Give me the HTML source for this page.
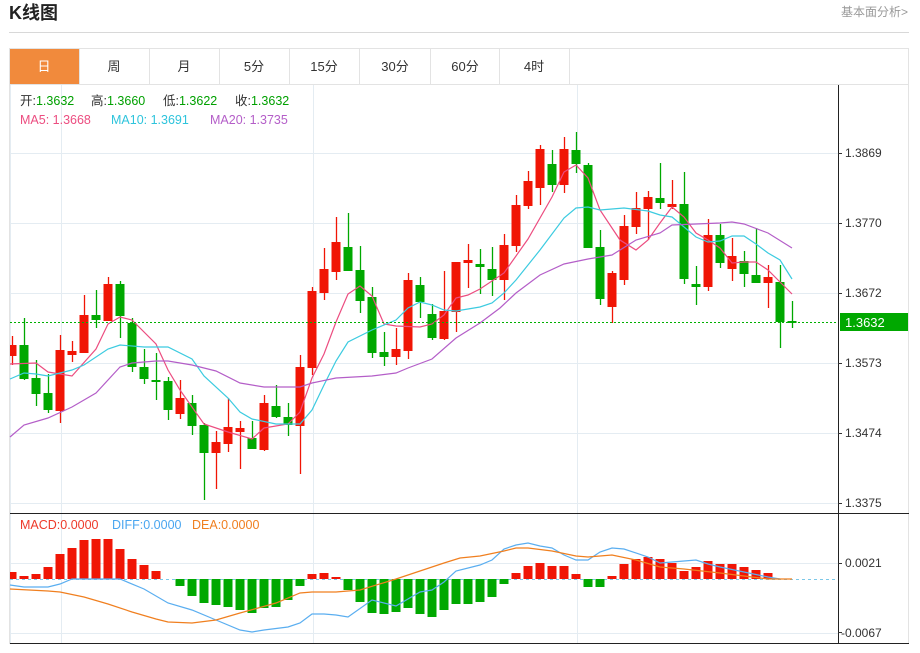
<!DOCTYPE html>
<html><head><meta charset="utf-8"><style>
body{margin:0;background:#fff;width:920px;height:648px;overflow:hidden;font-family:"Liberation Sans","Noto Sans CJK SC",sans-serif}
svg text{font-family:"Liberation Sans","Noto Sans CJK SC",sans-serif}
</style></head><body>
<svg id="s" width="920" height="648" xmlns="http://www.w3.org/2000/svg">
<text x="9" y="19" font-size="18" font-weight="bold" fill="#222">K线图</text>
<text x="908" y="16" font-size="12" fill="#999" text-anchor="end">基本面分析&gt;</text>
<line x1="9" y1="32.5" x2="909" y2="32.5" stroke="#d8d8d8"/>
<rect x="9.5" y="48.5" width="899" height="595" fill="none" stroke="#e3e3e3"/>
<line x1="9" y1="84.5" x2="909" y2="84.5" stroke="#e3e3e3"/>
<rect x="10" y="49" width="69" height="35" fill="#f18a3c"/>
<g stroke="#e3e3e3"><line x1="79.5" y1="49" x2="79.5" y2="84"/><line x1="149.5" y1="49" x2="149.5" y2="84"/><line x1="219.5" y1="49" x2="219.5" y2="84"/><line x1="289.5" y1="49" x2="289.5" y2="84"/><line x1="359.5" y1="49" x2="359.5" y2="84"/><line x1="430.5" y1="49" x2="430.5" y2="84"/><line x1="499.5" y1="49" x2="499.5" y2="84"/><line x1="569.5" y1="49" x2="569.5" y2="84"/></g>
<g font-size="13" text-anchor="middle" fill="#333">
<text x="44" y="71" fill="#fff">日</text><text x="114" y="71">周</text><text x="184" y="71">月</text><text x="254" y="71">5分</text><text x="324" y="71">15分</text><text x="395" y="71">30分</text><text x="465" y="71">60分</text><text x="534" y="71">4时</text></g>
<g id="grid" stroke="#e4ecf2" stroke-width="1"></g>
<g id="plot"></g>
<line x1="838.5" y1="85" x2="838.5" y2="643" stroke="#222"/>
<line x1="10" y1="513.5" x2="909" y2="513.5" stroke="#222"/>
<line x1="10" y1="643.5" x2="909" y2="643.5" stroke="#222"/>
<g font-size="12" fill="#333">
<text x="845" y="157">1.3869</text><text x="845" y="227">1.3770</text><text x="845" y="297">1.3672</text><text x="845" y="367">1.3573</text><text x="845" y="437">1.3474</text><text x="845" y="507">1.3375</text>
<text x="845" y="567">0.0021</text><text x="841" y="637">-0.0067</text></g>
<g stroke="#333"><line x1="838" y1="153.5" x2="842" y2="153.5"/><line x1="838" y1="223.5" x2="842" y2="223.5"/><line x1="838" y1="293.5" x2="842" y2="293.5"/><line x1="838" y1="363.5" x2="842" y2="363.5"/><line x1="838" y1="433.5" x2="842" y2="433.5"/><line x1="838" y1="503.5" x2="842" y2="503.5"/><line x1="838" y1="563.5" x2="842" y2="563.5"/><line x1="838" y1="632.5" x2="842" y2="632.5"/></g>
<rect x="840" y="313" width="68" height="18" fill="#00a800"/>
<text x="845" y="327" font-size="13" fill="#fff">1.3632</text>
<g font-size="12.5">
<text x="20" y="105" fill="#333">开:<tspan fill="#00a000">1.3632</tspan></text>
<text x="91" y="105" fill="#333">高:<tspan fill="#00a000">1.3660</tspan></text>
<text x="163" y="105" fill="#333">低:<tspan fill="#00a000">1.3622</tspan></text>
<text x="235" y="105" fill="#333">收:<tspan fill="#00a000">1.3632</tspan></text>
<text x="20" y="124" fill="#ec4d80">MA5: 1.3668</text><text x="111" y="124" fill="#2ec4dc">MA10: 1.3691</text><text x="210" y="124" fill="#b45ec8">MA20: 1.3735</text>
<text x="20" y="529" fill="#ee3a2a">MACD:0.0000</text><text x="112" y="529" fill="#4aa6f0">DIFF:0.0000</text><text x="192" y="529" fill="#f07f1f">DEA:0.0000</text>
</g>
</svg>
<script>
var NS="http://www.w3.org/2000/svg";
function el(p,t,a){var e=document.createElementNS(NS,t);for(var k in a)e.setAttribute(k,a[k]);p.appendChild(e);return e;}
var g=document.getElementById('grid'),P=document.getElementById('plot');
[153,223,293,363,433,503,563,633].forEach(function(y){el(g,'line',{x1:10,x2:838,y1:y+.5,y2:y+.5});});
[61,313,577].forEach(function(x){el(g,'line',{x1:x+.5,x2:x+.5,y1:85,y2:643});});
el(g,'line',{x1:10.5,x2:10.5,y1:85,y2:643});
var R='#f01505',G='#00a800';
var C=[['r',345,356,336,365],['g',345,379,318,380],['g',378,394,360,406],['g',393,410,374,413],['r',350,411,335,423],['r',351,355,341,362],['r',315,353,295,353],['g',315,320,290,328],['r',284,321,277,321],['g',284,316,281,338],['g',323,367,318,372],['g',367,379,349,384],['g',380,382,353,400],['g',381,410,377,420],['r',398,414,380,419],['g',403,426,395,435],['g',425,453,423,500],['r',442,453,431,489],['r',427,444,398,452],['r',428,432,421,469],['g',438,449,421,449],['r',403,450,395,451],['g',406,417,385,418],['g',417,425,403,436],['r',367,426,355,474],['r',291,368,287,375],['r',269,293,248,300],['r',242,272,217,280],['g',247,271,213,271],['g',270,301,246,313],['g',297,353,287,358],['g',352,357,332,366],['r',349,357,328,365],['r',280,351,273,359],['g',285,302,277,318],['g',314,338,304,340],['r',311,339,271,340],['r',262,312,262,332],['r',260,263,244,288],['g',264,267,249,294],['g',269,280,247,296],['r',245,280,234,300],['r',205,246,195,252],['r',181,206,171,209],['r',149,188,145,205],['g',164,185,150,192],['r',149,185,137,193],['g',150,164,132,173],['g',165,248,163,248],['g',247,299,230,305],['r',273,307,271,323],['r',226,280,215,285],['r',208,227,192,234],['r',197,209,191,240],['g',198,203,163,209],['r',204,207,180,209],['g',204,279,172,284],['g',284,287,266,305],['r',235,287,219,291],['g',235,263,224,268],['r',256,269,238,281],['g',261,274,251,287],['g',275,283,228,283],['r',277,283,265,308],['g',282,322,265,348],['g',321,322,301,328]];
C.forEach(function(c,i){var x=12+12*i,col=c[0]=='r'?R:G;
el(P,'line',{x1:x+.5,x2:x+.5,y1:c[3],y2:c[4],stroke:col,'stroke-width':1.3});
var h=Math.max(c[2]-c[1],2);el(P,'rect',{x:Math.max(x-4.5,10),y:c[1],width:x-4.5<10?x+4.5-10:9,height:h,fill:col});});
function pl(pts,col){el(P,'polyline',{points:pts,fill:'none',stroke:col,'stroke-width':1.2});}
pl("10,364 36,363 48,372 72,376 96,349 108,324 120,317 132,320 156,344 168,370 180,390 204,424 228,432 252,439 264,428 288,424 300,412 312,378 324,354 336,322 348,294 360,286 372,296 384,324 396,326 420,327 432,324 444,315 456,298 468,295 480,289 504,273 528,239 552,197 564,172 576,165 588,178 600,210 620,240 636,250 648,240 660,223 672,207 684,217 696,233 708,240 720,248 732,263 744,262 756,262 768,270 780,282 792,294","#ec4d80");
pl("10,379 24,373 36,374 48,376 72,370 84,365 108,349 120,345 144,347 168,347 192,359 204,376 228,398 240,412 252,419 276,424 300,424 312,410 324,385 336,361 348,342 372,330 396,320 408,308 420,302 432,305 444,310 456,311 480,307 492,303 504,293 516,280 528,265 540,250 564,218 576,208 588,207 600,210 624,208 648,211 660,215 672,217 696,237 708,242 720,241 732,236 744,236 756,244 768,253 780,260 792,279","#3ccbe0");
pl("10,437 24,425 48,418 72,407 96,393 120,367 132,363 156,361 168,361 192,365 216,371 240,383 264,387 300,387 312,383 336,378 372,376 396,373 408,368 432,359 456,338 480,323 500,308 516,293 540,275 564,264 588,259 612,255 636,240 660,233 672,225 696,224 720,223 732,222 744,224 768,233 792,248","#b45ec8");
el(P,'line',{x1:10,x2:838,y1:322.5,y2:322.5,stroke:'#00b000','stroke-dasharray':'2,2'});
el(P,'line',{x1:10,x2:838,y1:579.5,y2:579.5,stroke:'#7cc8e8','stroke-dasharray':'3,3'});
var M=[572,576,574,567,554,548,540,539,539,549,559,565,571,579,586,596,603,605,607,610,613,608,607,600,586,574,573,577,590,602,613,614,612,608,614,617,610,604,604,602,597,584,573,566,563,566,566,574,587,587,576,564,559,557,559,563,571,567,561,564,564,567,570,573];
M.forEach(function(v,i){var x=12+12*i;if(v==579)return;var up=v<579;
el(P,'rect',{x:Math.max(x-4.5,10),y:up?v:579,width:x-4.5<10?x+4.5-10:9,height:Math.abs(v-579),fill:up?R:G});});
pl("10,585 24,587 48,587 60,584 72,579 120,579 144,589 168,603 192,610 216,620 240,630 252,632 264,630 288,627 300,623 312,614 324,614 336,615 348,617 372,600 396,606 420,592 432,590 444,582 456,571 480,565 492,560 504,549 516,545 528,543 540,546 552,548 564,555 576,560 588,560 600,552 612,548 624,549 648,557 660,563 672,562 696,560 708,564 720,567 744,572 768,577 780,579","#5aaef0");
pl("10,589 48,591 60,592 84,597 108,604 132,612 156,619 168,622 192,623 216,620 240,613 276,603 300,593 312,592 336,592 360,590 396,579 420,571 444,563 460,558 480,556 504,551 516,548 528,548 552,551 576,556 588,557 600,556 612,555 636,560 660,567 684,569 720,573 744,576 768,579 792,579","#f07f1f");
</script>
</body></html>
